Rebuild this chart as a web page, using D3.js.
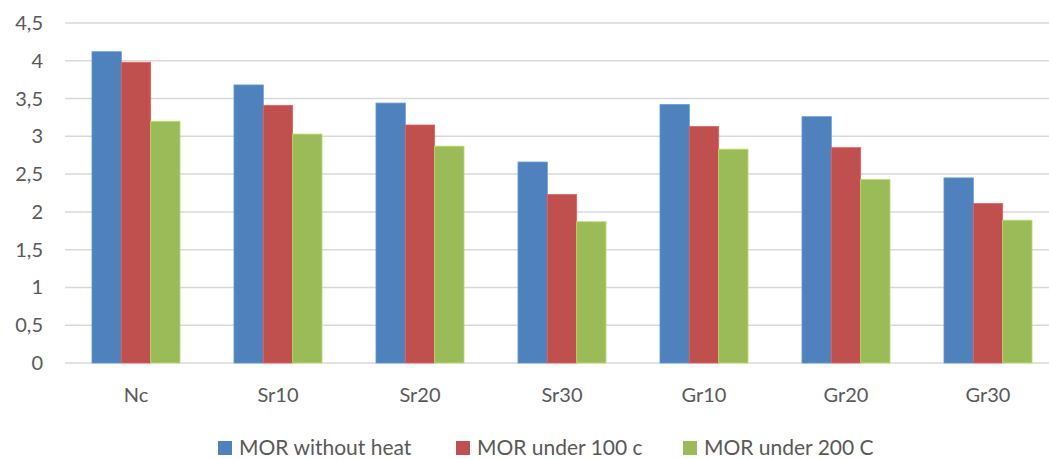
<!DOCTYPE html>
<html>
<head>
<meta charset="utf-8">
<script src="https://cdn.jsdelivr.net/npm/d3@7"></script>
<style>
  body { margin: 0; background: #fff; }
  svg { display: block; font-family: Lato, "Open Sans", sans-serif; }
</style>
</head>
<body>
<div id="chart"></div>
<script>
// data
const categories = ['Nc', 'Sr10', 'Sr20', 'Sr30', 'Gr10', 'Gr20', 'Gr30'];
const seriesNames = ['MOR without heat', 'MOR under 100 c', 'MOR under 200 C'];
const withoutHeat = [4.12, 3.68, 3.44, 2.66, 3.42, 3.26, 2.45];
const under100 = [3.98, 3.41, 3.15, 2.23, 3.13, 2.85, 2.11];
const under200 = [3.20, 3.03, 2.87, 1.87, 2.83, 2.43, 1.89];
const yTicks = [0, 0.5, 1, 1.5, 2, 2.5, 3, 3.5, 4, 4.5];
const colors = ['#4f81bd', '#c0504d', '#9bbb59'];

const width = 1049, height = 459;
const seriesData = [withoutHeat, under100, under200];

const svg = d3.select('#chart').append('svg')
    .attr('width', width)
    .attr('height', height);

const x = d3.scaleBand()
    .domain(categories)
    .range([65, 1059])
    .paddingInner(0.38)
    .paddingOuter(0.19);

const xs = d3.scaleBand()
    .domain(d3.range(seriesNames.length))
    .range([0, x.bandwidth()]);

const y = d3.scaleLinear()
    .domain([0, 4.5])
    .range([363, 23]);

// gridlines
svg.append('g')
    .selectAll('line')
    .data(yTicks)
    .join('line')
    .attr('x1', 65)
    .attr('x2', width)
    .attr('y1', d => y(d))
    .attr('y2', d => y(d))
    .attr('stroke', '#d9d9d9')
    .attr('stroke-width', 1.5);

// y labels
const fmt = d => String(d).replace('.', ',');
svg.append('g')
    .selectAll('text')
    .data(yTicks)
    .join('text')
    .attr('x', 43)
    .attr('y', d => y(d))
    .attr('dy', '0.35em')
    .attr('text-anchor', 'end')
    .attr('fill', '#595959')
    .style('font-size', '20px')
    .text(fmt);

// bars
const groups = svg.append('g')
    .selectAll('g')
    .data(categories)
    .join('g')
    .attr('transform', d => `translate(${x(d)},0)`);

groups.selectAll('rect')
    .data((c, i) => seriesData.map((s, k) => ({k: k, v: s[i]})))
    .join('rect')
    .attr('x', d => xs(d.k))
    .attr('width', xs.bandwidth())
    .attr('y', d => y(d.v))
    .attr('height', d => y(0) - y(d.v))
    .attr('fill', d => colors[d.k])
    .attr('stroke', d => d3.color(colors[d.k]).brighter(0.5))
    .attr('stroke-width', 0.8);

// x labels
svg.append('g')
    .selectAll('text')
    .data(categories)
    .join('text')
    .attr('x', d => x(d) + x.bandwidth() / 2)
    .attr('y', 395)
    .attr('dy', '0.35em')
    .attr('text-anchor', 'middle')
    .attr('fill', '#595959')
    .style('font-size', '20px')
    .text(d => d);

// legend
const legendX = [218, 456, 683];
const legend = svg.append('g')
    .selectAll('g')
    .data(seriesNames)
    .join('g')
    .attr('transform', (d, i) => `translate(${legendX[i]},448)`);

legend.append('rect')
    .attr('x', 0)
    .attr('y', -7)
    .attr('width', 14)
    .attr('height', 14)
    .attr('fill', (d, i) => colors[i]);

legend.append('text')
    .attr('x', 21)
    .attr('y', 0)
    .attr('dy', '0.35em')
    .attr('fill', '#595959')
    .style('font-size', '21px')
    .text(d => d);
</script>
</body>
</html>
